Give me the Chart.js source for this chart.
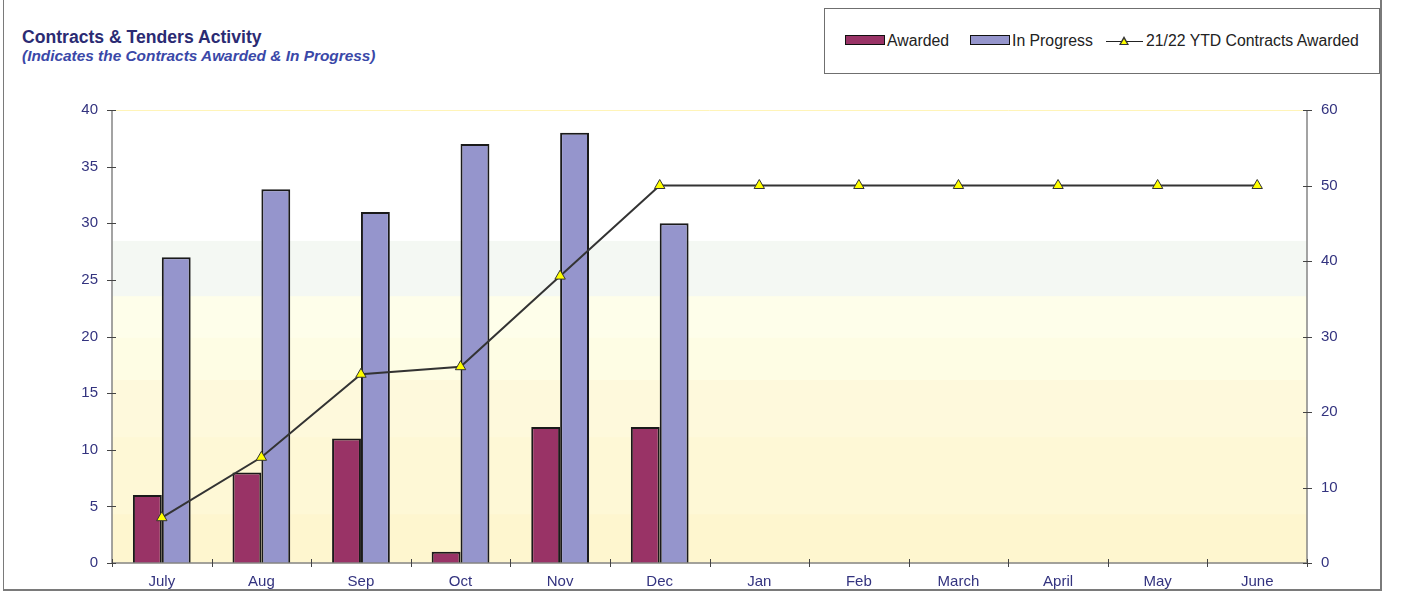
<!DOCTYPE html>
<html>
<head>
<meta charset="utf-8">
<title>Contracts & Tenders Activity</title>
<script src="https://cdn.jsdelivr.net/npm/chart.js@4.4.0/dist/chart.umd.min.js"></script>
<style>
  html, body { margin: 0; padding: 0; background: #fff; }
  body { width: 1405px; height: 592px; position: relative; overflow: hidden; font-family: "Liberation Sans", Arial, sans-serif; }
  .frame { position: absolute; left: 3px; top: -2px; width: 1379px; height: 593px; border: 1px solid #7a7a7a; border-top: none; box-sizing: border-box; border-right-width: 2px; border-bottom-width: 2px; }
  .title { position: absolute; left: 22px; top: 27px; font-size: 17.6px; font-weight: bold; color: #2b2b73; }
  .subtitle { position: absolute; left: 22px; top: 47px; font-size: 15.4px; font-weight: bold; font-style: italic; color: #3a48a8; }
  .legend { position: absolute; left: 824px; top: 8px; width: 556px; height: 66px; border: 1px solid #6f6f6f; box-sizing: border-box; background: #fff; }
  .legend .item { position: absolute; top: 23px; font-size: 15.8px; color: #222; line-height: 18px; white-space: nowrap; }
  .legend .sw { display: inline-block; width: 38px; height: 8px; border: 1px solid #111; vertical-align: 1px; margin-right: 2px; }
  .legend .ln { display: inline-block; position: relative; width: 37px; height: 10px; margin-right: 3px; vertical-align: 0; }
  .legend .ln:before { content: ""; position: absolute; left: 0; right: 0; top: 5px; border-top: 1.5px solid #222; }
  .legend .ln:after { content: ""; position: absolute; left: 13px; top: 0; width: 0; height: 0; border-left: 5px solid transparent; border-right: 5px solid transparent; border-bottom: 9px solid #333; }
  .legend .ln i { position: absolute; left: 15px; top: 3px; width: 0; height: 0; border-left: 3px solid transparent; border-right: 3px solid transparent; border-bottom: 5px solid #ffff00; z-index: 1; }
  #chart { position: absolute; left: 0; top: 0; }
</style>
</head>
<body>
<div class="frame"></div>
<div class="title">Contracts &amp; Tenders Activity</div>
<div class="subtitle">(Indicates the Contracts Awarded &amp; In Progress)</div>
<div class="legend">
  <div class="item" style="left:20px"><span class="sw" style="background:#993366"></span>Awarded</div>
  <div class="item" style="left:145px"><span class="sw" style="background:#9595cc"></span>In Progress</div>
  <div class="item" style="left:281px"><span class="ln"><i></i></span>21/22 YTD Contracts Awarded</div>
</div>
<canvas id="chart" width="1405" height="592"></canvas>
<script>
const months = ["July", "Aug", "Sep", "Oct", "Nov", "Dec", "Jan", "Feb", "March", "April", "May", "June"];
const awarded = [6, 8, 11, 1, 12, 12, null, null, null, null, null, null];
const inProgress = [27, 33, 31, 37, 38, 30, null, null, null, null, null, null];
const ytdAwarded = [6, 14, 25, 26, 38, 50, 50, 50, 50, 50, 50, 50];
const leftTicks = [0, 5, 10, 15, 20, 25, 30, 35, 40];
const rightTicks = [0, 10, 20, 30, 40, 50, 60];

const navy = "#33337f";
const axisGrey = "#858585";
const tickFont = { family: "Liberation Sans", size: 15 };

// banded plot background, white at the top fading into pale yellow
const plotBands = {
  id: "plotBands",
  beforeDraw(chart) {
    const { ctx, chartArea: a } = chart;
    const h = a.bottom - a.top;
    const bands = [
      [0.000, 0.289, "#ffffff"],
      [0.289, 0.411, "#f4f8f3"],
      [0.411, 0.503, "#fefeea"],
      [0.503, 0.596, "#fefde4"],
      [0.596, 0.722, "#fef9dc"],
      [0.722, 0.892, "#fef8d6"],
      [0.892, 1.000, "#fef6cf"]
    ];
    ctx.save();
    bands.forEach(([f0, f1, c]) => {
      ctx.fillStyle = c;
      ctx.fillRect(a.left, a.top + f0 * h, a.right - a.left, (f1 - f0) * h + 0.5);
    });
    ctx.strokeStyle = "#fff4b8";
    ctx.lineWidth = 1;
    ctx.beginPath();
    ctx.moveTo(a.left, a.top + 0.5);
    ctx.lineTo(a.right, a.top + 0.5);
    ctx.stroke();
    ctx.restore();
  }
};

// axis lines with ticks that cross the line
const axisTicks = {
  id: "axisTicks",
  afterDatasetsDraw(chart) {
    const { ctx, chartArea: a, scales } = chart;
    ctx.save();
    ctx.strokeStyle = axisGrey;
    ctx.lineWidth = 1.5;
    ctx.beginPath();
    ctx.moveTo(a.left, a.top);
    ctx.lineTo(a.left, a.bottom);
    ctx.lineTo(a.right, a.bottom);
    ctx.lineTo(a.right, a.top);
    ctx.stroke();
    ctx.strokeStyle = "#444";
    ctx.lineWidth = 1;
    ctx.beginPath();
    leftTicks.forEach(v => {
      const y = Math.round(scales.y.getPixelForValue(v)) + 0.5;
      ctx.moveTo(a.left - 5, y);
      ctx.lineTo(a.left + 4, y);
    });
    rightTicks.forEach(v => {
      const y = Math.round(scales.y2.getPixelForValue(v)) + 0.5;
      ctx.moveTo(a.right - 4, y);
      ctx.lineTo(a.right + 5, y);
    });
    const step = (a.right - a.left) / months.length;
    for (let i = 0; i <= months.length; i++) {
      const x = Math.round(a.left + i * step) + 0.5;
      ctx.moveTo(x, a.bottom - 4);
      ctx.lineTo(x, a.bottom + 4);
    }
    ctx.stroke();
    ctx.restore();
  }
};

new Chart(document.getElementById("chart"), {
  data: {
    labels: months,
    datasets: [
      {
        type: "line",
        label: "21/22 YTD Contracts Awarded",
        data: ytdAwarded,
        yAxisID: "y2",
        borderColor: "#333333",
        borderWidth: 2,
        pointStyle: "triangle",
        pointRadius: 6,
        pointBackgroundColor: "#ffff00",
        pointBorderColor: "#333333",
        pointBorderWidth: 1,
        tension: 0,
        order: 0
      },
      {
        type: "bar",
        label: "Awarded",
        data: awarded,
        yAxisID: "y",
        backgroundColor: "#993366",
        borderColor: "#1a1a1a",
        borderWidth: 2,
        barPercentage: 1,
        categoryPercentage: 0.58,
        order: 1
      },
      {
        type: "bar",
        label: "In Progress",
        data: inProgress,
        yAxisID: "y",
        backgroundColor: "#9595cc",
        borderColor: "#1a1a1a",
        borderWidth: 2,
        barPercentage: 1,
        categoryPercentage: 0.58,
        order: 1
      }
    ]
  },
  options: {
    responsive: false,
    animation: false,
    layout: { padding: { top: 110, bottom: 0, left: 0, right: 0 } },
    plugins: {
      legend: { display: false },
      title: { display: false },
      tooltip: { enabled: false }
    },
    scales: {
      x: {
        offset: true,
        grid: { display: false, drawTicks: false },
        border: { display: false },
        ticks: { color: navy, font: tickFont, padding: 10, maxRotation: 0 },
        afterFit(scale) { scale.height = 29; }
      },
      y: {
        position: "left",
        min: 0,
        max: 40,
        afterBuildTicks(scale) { scale.ticks = leftTicks.map(v => ({ value: v })); },
        grid: { display: false, drawTicks: false },
        border: { display: false },
        ticks: { color: navy, font: tickFont, padding: 14 },
        afterFit(scale) { scale.width = 112; }
      },
      y2: {
        position: "right",
        min: 0,
        max: 60,
        afterBuildTicks(scale) { scale.ticks = rightTicks.map(v => ({ value: v })); },
        grid: { display: false, drawTicks: false },
        border: { display: false },
        ticks: { color: navy, font: tickFont, padding: 14 },
        afterFit(scale) { scale.width = 98; }
      }
    }
  },
  plugins: [plotBands, axisTicks]
});
</script>
</body>
</html>
